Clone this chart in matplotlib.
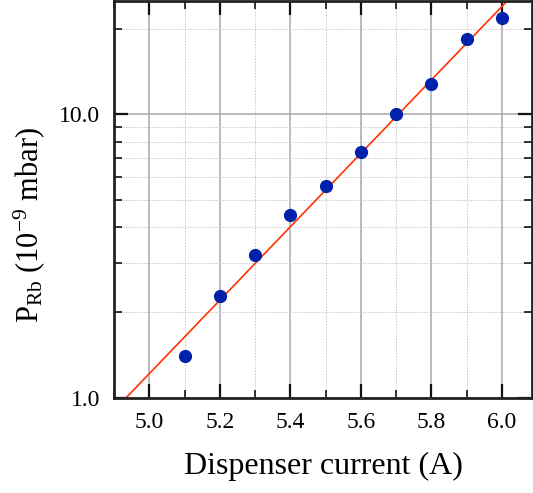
import numpy as np
import matplotlib.pyplot as plt
from matplotlib.ticker import FixedLocator, NullFormatter

# measured data
current = [5.1, 5.2, 5.3, 5.4, 5.5, 5.6, 5.7, 5.8, 5.9, 6.0]
pressure = [1.40, 2.29, 3.20, 4.40, 5.60, 7.39, 10.0, 12.75, 18.5, 21.9]

# exponential fit: log10(P) = fit_slope * (I - fit_x0)
fit_slope = 1.295
fit_x0 = 4.934

xticks = [5.0, 5.2, 5.4, 5.6, 5.8, 6.0]
xminor = [4.9, 5.1, 5.3, 5.5, 5.7, 5.9]
yticks = [1.0, 10.0]
yminor = [2, 3, 4, 5, 6, 7, 8, 9, 20]

plt.rcParams["font.family"] = ["Liberation Serif", "DejaVu Serif"]
plt.rcParams["mathtext.fontset"] = "custom"
plt.rcParams["mathtext.rm"] = "Liberation Serif"
plt.rcParams["mathtext.it"] = "Liberation Serif:italic"

fig = plt.figure(figsize=(5.33, 4.93), dpi=100)
ax = fig.add_axes([0.214, 0.193, 0.784, 0.805])

ax.set_yscale("log")
ax.set_xlim(4.9, 6.085)
ax.set_ylim(1.0, 25.1)

# grid
ax.xaxis.set_major_locator(FixedLocator(xticks))
ax.xaxis.set_minor_locator(FixedLocator(xminor))
ax.yaxis.set_major_locator(FixedLocator(yticks))
ax.yaxis.set_minor_locator(FixedLocator(yminor))
ax.yaxis.set_minor_formatter(NullFormatter())
ax.set_xticklabels([f"{t:.1f}" for t in xticks])
ax.set_yticklabels([f"{t:.1f}" for t in yticks])
ax.grid(which="major", color="#a8a8a8", linewidth=1.1)
ax.grid(which="minor", color="#c8c8c8", linewidth=0.7, linestyle=(0, (1.5, 1.5)))
ax.set_axisbelow(True)

xs = np.array([4.9, 6.085])
ax.plot(xs, 10 ** (fit_slope * (xs - fit_x0)), color="#ff3300", linewidth=1.2, zorder=2)
ax.plot(current, pressure, "o", color="#0022aa", markersize=8.5, zorder=3)

ax.tick_params(which="both", direction="in", top=True, right=True,
               labelsize=17, color="#111111")
ax.tick_params(which="major", length=10, width=1.6, pad=10)
ax.tick_params(which="minor", length=6, width=1.2)
for s in ax.spines.values():
    s.set_linewidth(2)
    s.set_color("#222222")

ax.set_xlabel("Dispenser current (A)", fontsize=23, labelpad=14)
ax.set_ylabel(r"P$_{\rm Rb}$ (10$^{-9}$ mbar)", fontsize=22)
ax.yaxis.set_label_coords(-0.16, 0.435)

fig.savefig("out.png", dpi=100)
